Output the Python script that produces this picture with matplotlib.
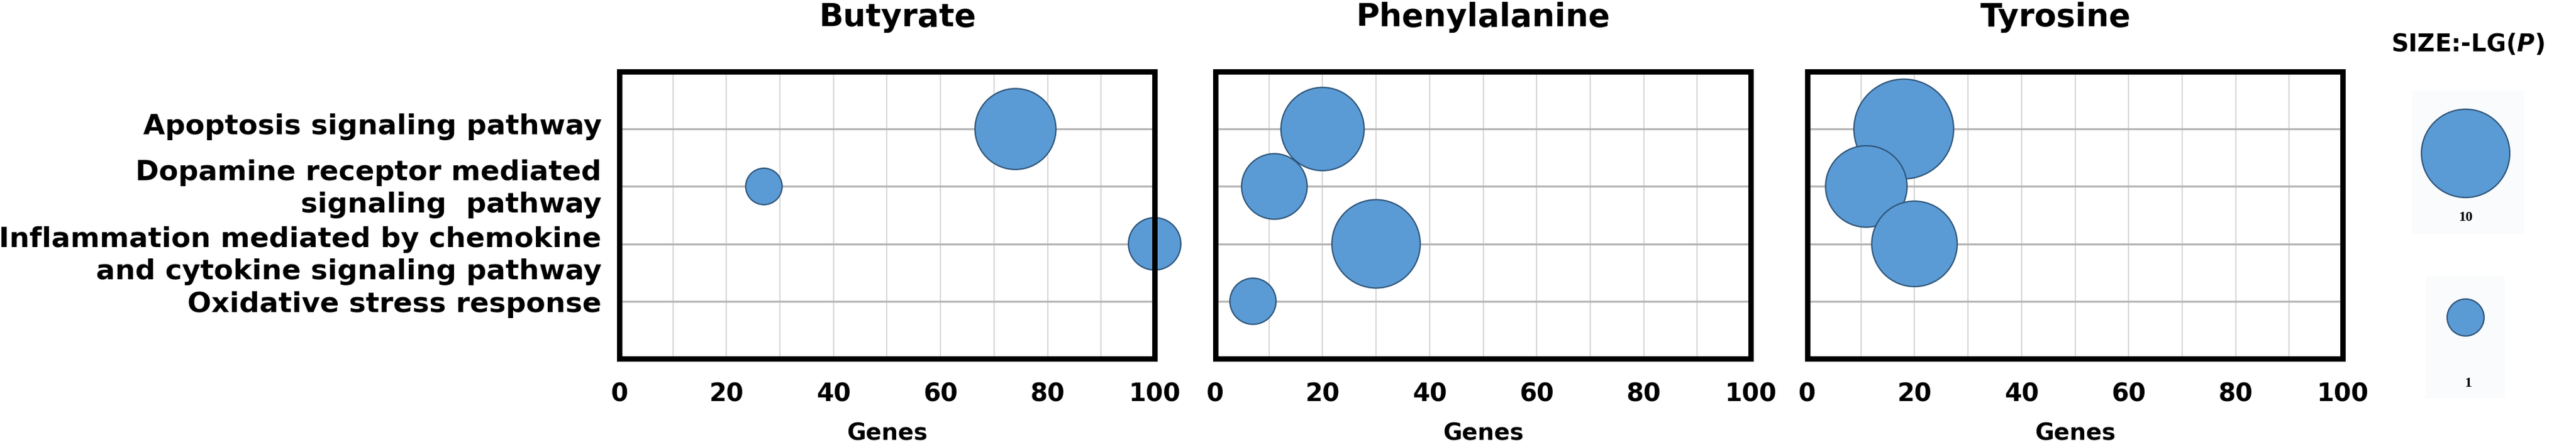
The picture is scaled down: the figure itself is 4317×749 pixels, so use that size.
import numpy as np
import matplotlib
matplotlib.use("Agg")
import matplotlib.pyplot as plt
from matplotlib.patches import Rectangle

plt.rcParams["font.family"] = ["DejaVu Sans"]
plt.rcParams["font.weight"] = "bold"
plt.rcParams["axes.labelweight"] = "bold"
plt.rcParams["mathtext.fontset"] = "custom"
plt.rcParams["mathtext.it"] = "DejaVu Sans:italic:bold"
plt.rcParams["mathtext.rm"] = "DejaVu Sans:bold"

# ---- data ----
pathways = [
    "Apoptosis signaling pathway",
    "Dopamine receptor mediated\nsignaling  pathway",
    "Inflammation mediated by chemokine\nand cytokine signaling pathway",
    "Oxidative stress response",
]
metabolites = ["Butyrate", "Phenylalanine", "Tyrosine"]

# gene counts per pathway (nan = not enriched)
genes_butyrate = [74, 27, 100, np.nan]
genes_phe = [20, 11, 30, 7]
genes_tyr = [18, 11, 20, np.nan]

# bubble size: -lg(P)
lgp_butyrate = [8.7, 0.9, 3.7, np.nan]
lgp_phe = [9.1, 6.0, 10.0, 2.6]
lgp_tyr = [12.0, 8.8, 9.5, np.nan]

x_ticks = [0, 20, 40, 60, 80, 100]
legend_values = [10, 1]

genes = [genes_butyrate, genes_phe, genes_tyr]
lgps = [lgp_butyrate, lgp_phe, lgp_tyr]

# ---- layout / style ----
W, H, DPI = 4317, 749, 100
fill = "#5b9bd5"
edge = "#2e5478"


def bubble_size(v):
    # diameter (px) linear between the legend keys: 1 -> 62 px, 10 -> 148 px
    d = 62 + (np.asarray(v, dtype=float) - 1) * (148 - 62) / 9
    return (d * 72 / DPI) ** 2


panel_x = [(1038, 1935), (2037, 2934), (3029, 3926)]
top, bottom = 120, 601
title_dx = [17, 0, -33]

label_y = [0.964, 2.045, 3.204, 4.061]

fig = plt.figure(figsize=(W / DPI, H / DPI), dpi=DPI)
rows = np.arange(1, len(pathways) + 1)

for i, name in enumerate(metabolites):
    x0, x1 = panel_x[i]
    ax = fig.add_axes([x0 / W, 1 - bottom / H, (x1 - x0) / W, (bottom - top) / H])

    g = np.asarray(genes[i], dtype=float)
    v = np.asarray(lgps[i], dtype=float)
    ok = np.isfinite(g)
    ax.scatter(g[ok], rows[ok], s=bubble_size(v[ok]), c=fill,
               edgecolors=edge, linewidths=1.6, clip_on=False, zorder=2)

    ax.set_xlim(0, 100)
    ax.set_ylim(5, 0)
    ax.set_xticks(x_ticks)
    ax.set_xticks(range(10, 100, 10), minor=True)
    ax.set_yticks(rows)
    ax.set_yticklabels([])
    ax.tick_params(which="both", length=0)
    ax.tick_params(axis="x", pad=28, labelsize=30)
    ax.grid(axis="x", which="both", color="#d6d6d6", lw=1.5)
    ax.grid(axis="y", color="#b5b5b5", lw=2.4)
    ax.set_axisbelow(True)
    for s in ax.spines.values():
        s.set_linewidth(6.5)
        s.set_color("black")

    ax.set_xlabel("Genes", fontsize=28, fontweight="bold")
    ax.xaxis.set_label_coords(0.5, (bottom - 726) / (bottom - top))
    ax.xaxis.label.set_va("center")

    ax.text(0.5 + title_dx[i] / (x1 - x0), (bottom - 29) / (bottom - top), name,
            transform=ax.transAxes, ha="center", va="center", fontsize=38.5)

    if i == 0:
        for lab, y in zip(pathways, label_y):
            ax.text(-30 / (x1 - x0), y, lab, transform=ax.get_yaxis_transform(),
                    ha="right", va="center", multialignment="right",
                    fontsize=34, linespacing=1.25)

# ---- size legend ----
lax = fig.add_axes([0, 0, 1, 1])
lax.set_xlim(0, W)
lax.set_ylim(H, 0)
lax.axis("off")

lax.add_patch(Rectangle((4042, 152), 188, 239, facecolor="#fafbfc", edgecolor="none", zorder=0))
lax.add_patch(Rectangle((4065, 463), 133, 204, facecolor="#fafbfc", edgecolor="none", zorder=0))

lax.text(4135, 74, "SIZE:-LG($P$)", ha="center", va="center", fontsize=29)
lax.scatter([4132, 4132], [257, 532], s=bubble_size(legend_values), c=fill,
            edgecolors=edge, linewidths=1.6, zorder=2)
lax.text(4132, 364, str(legend_values[0]), ha="center", va="center",
         fontsize=17, family="Liberation Serif", weight="bold")
lax.text(4136, 642, str(legend_values[1]), ha="center", va="center",
         fontsize=17, family="Liberation Serif", weight="bold")

fig.savefig("out.png", dpi=DPI)
